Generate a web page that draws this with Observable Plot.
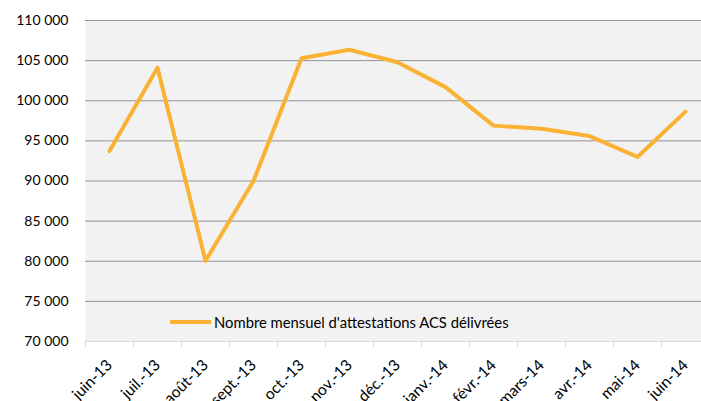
<!DOCTYPE html>
<html><head><meta charset="utf-8">
<script src="https://cdn.jsdelivr.net/npm/d3@7"></script>
<script src="https://cdn.jsdelivr.net/npm/@observablehq/plot@0.6"></script>
<style>
body{margin:0;background:#fff;}
#wrap{position:relative;width:701px;height:401px;overflow:hidden;font-family:Lato,"Open Sans",sans-serif;}
#legend{position:absolute;left:170px;top:313px;display:flex;align-items:center;font-size:14.8px;color:#000;white-space:nowrap;}
#legend .sw{display:inline-block;width:41px;height:4px;background:#F9B233;margin-right:3px;}
</style></head><body>
<div id="wrap"><div id="chart"></div><div id="legend"><span class="sw"></span><span>Nombre mensuel d'attestations ACS délivrées</span></div></div>
<script>
const months = ["juin-13","juil.-13","août-13","sept.-13","oct.-13","nov.-13","déc.-13","janv.-14","févr.-14","mars-14","avr.-14","mai-14","juin-14"];
const values = [93750,104100,80050,90000,105300,106350,104800,101700,96900,96500,95600,93000,98650];
const yTicks = [70000,75000,80000,85000,90000,95000,100000,105000,110000];
const seriesName = "Nombre mensuel d'attestations ACS délivrées";

const data = months.map((m, i) => ({i, month: m, value: values[i]}));
const fr = d3.formatLocale({decimal: ",", thousands: " ", grouping: [3], currency: ["", "€"]}).format(",d");
const boundaries = d3.range(months.length + 1).map(i => i - 0.5);

const chart = Plot.plot({
  width: 709, height: 401,
  marginLeft: 85, marginRight: 0, marginTop: 20, marginBottom: 60,
  style: {fontFamily: "Lato, 'Open Sans', sans-serif", fontSize: "14px", color: "#000", background: "transparent", overflow: "hidden", maxWidth: "none"},
  x: {type: "linear", domain: [-0.5, months.length - 0.5], axis: null},
  y: {domain: [70000, 110000], axis: null},
  marks: [
    Plot.frame({fill: "#f2f2f2", stroke: null}),
    Plot.gridY(yTicks.slice(1), {stroke: "#929292", strokeOpacity: 1}),
    Plot.ruleY([70000], {stroke: "#d9d9d9"}),
    Plot.axisX(boundaries, {tickSize: 6, tickFormat: () => "", stroke: "#d9d9d9", label: null}),
    Plot.axisX(d3.range(months.length), {tickSize: 0, tickPadding: 21, tickRotate: -45, tickFormat: i => months[i], fontSize: 15.6, label: null}),
    Plot.axisY(yTicks, {tickSize: 0, tickPadding: 17, tickFormat: fr, fontSize: 14, label: null}),
    Plot.line(data, {x: "i", y: "value", stroke: "#F9B233", strokeWidth: 4, strokeLinecap: "round"})
  ]
});
document.getElementById("chart").appendChild(chart);
</script>
</body></html>
